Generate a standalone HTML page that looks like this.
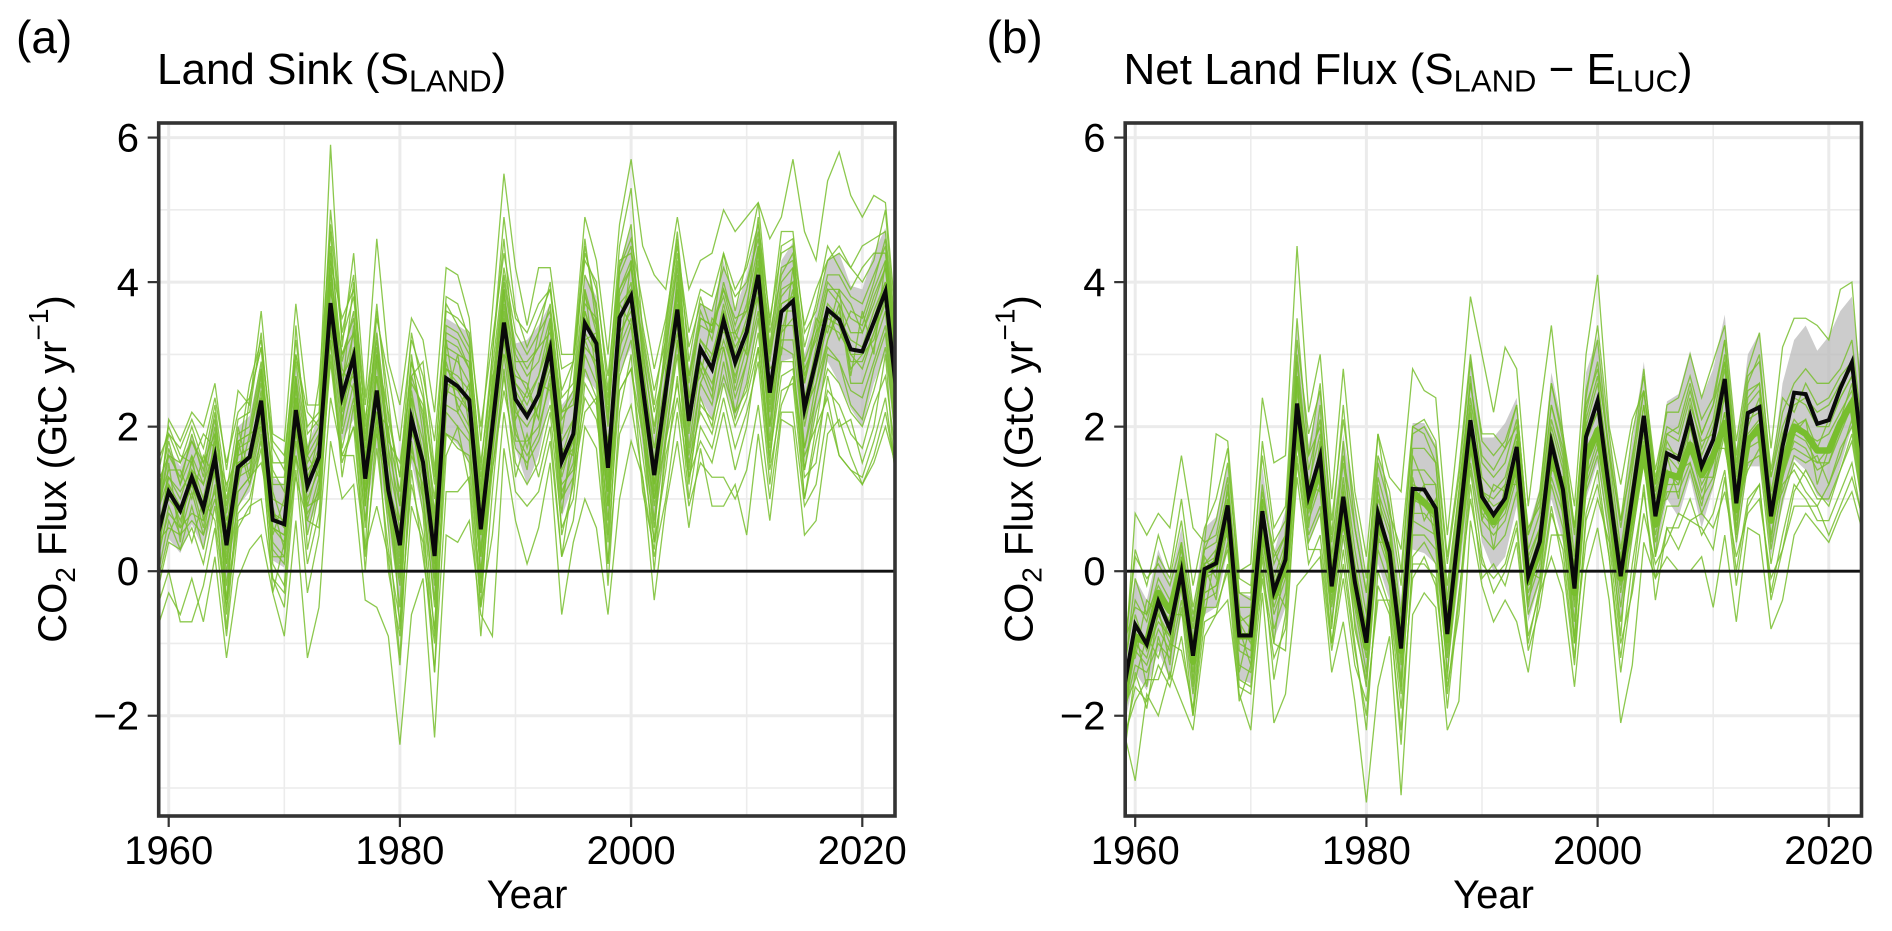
<!DOCTYPE html>
<html lang="en">
<head>
<meta charset="utf-8">
<title>Land Sink and Net Land Flux</title>
<style>
html,body{margin:0;padding:0;background:#fff;width:1892px;height:931px;overflow:hidden}
svg{display:block}
text{font-family:"Liberation Sans",sans-serif;fill:#000}
</style>
</head>
<body>
<svg id="figure" width="1892" height="931" viewBox="0 0 1892 931" xmlns="http://www.w3.org/2000/svg">
  <rect width="1892" height="931" fill="#fff"/>
  <defs>
    <clipPath id="plot-clip"><rect x="158.7" y="123" width="736.3" height="693"/></clipPath>
  </defs>

  <g id="panel-a">
    <text x="16" y="53" font-size="46">(a)</text>
    <text x="157" y="84" font-size="44">Land Sink (S<tspan font-size="31" dy="7.5">LAND</tspan><tspan dy="-7.5">)</tspan></text>
    <text x="527" y="908" font-size="40" text-anchor="middle">Year</text>
    <text transform="translate(66,469) rotate(-90)" font-size="40" text-anchor="middle">CO<tspan font-size="28" dy="9">2</tspan><tspan dy="-9"> Flux (GtC yr</tspan><tspan font-size="28" dy="-18">−1</tspan><tspan dy="18">)</tspan></text>
  </g>

  <g id="panel-b" transform="translate(966.5,0)">
    <text x="20" y="53" font-size="46">(b)</text>
    <text x="157" y="84" font-size="44">Net Land Flux (S<tspan font-size="31" dy="7.5">LAND</tspan><tspan dy="-7.5"> − E</tspan><tspan font-size="31" dy="7.5">LUC</tspan><tspan dy="-7.5">)</tspan></text>
    <text x="527" y="908" font-size="40" text-anchor="middle">Year</text>
    <text transform="translate(66,469) rotate(-90)" font-size="40" text-anchor="middle">CO<tspan font-size="28" dy="9">2</tspan><tspan dy="-9"> Flux (GtC yr</tspan><tspan font-size="28" dy="-18">−1</tspan><tspan dy="18">)</tspan></text>
  </g>
</svg>

<script>
const firstYear = 1959;
const xMajorTicks = [1960, 1980, 2000, 2020];
const xMinorTicks = [1970, 1990, 2010];
const yMajorTicks = [-2, 0, 2, 4, 6];
const yMinorTicks = [-3, -1, 1, 3, 5];

const sinkBlack = [0.47,
1.10,0.84,1.30,0.87,1.58,0.36,1.44,1.58,2.36,0.71,
0.65,2.23,1.18,1.58,3.71,2.42,2.97,1.28,2.50,1.12,
0.36,2.11,1.51,0.21,2.67,2.56,2.37,0.58,2.00,3.44,
2.38,2.14,2.44,3.07,1.52,1.90,3.43,3.15,1.43,3.51,
3.81,2.55,1.33,2.50,3.62,2.08,3.08,2.80,3.47,2.89,
3.31,4.10,2.47,3.59,3.74,2.25,2.92,3.62,3.48,3.07,
3.04,3.45,3.87,2.40];

const sinkBandHigh = [1.0,
1.7,1.45,1.9,1.5,2.2,1.0,2.0,2.15,2.9,1.3,
1.2,2.85,1.75,2.15,4.3,3.0,3.6,1.9,3.4,2.0,
1.1,2.8,2.1,0.9,3.5,3.4,3.3,1.1,2.6,4.1,
3.15,3.2,3.4,3.7,2.3,2.5,4.1,3.8,2.2,4.25,
4.75,3.3,2.0,3.2,4.3,2.8,3.7,3.6,4.3,3.6,
4.1,4.8,3.2,4.3,4.55,3.0,3.6,4.3,4.4,3.95,
3.9,4.4,4.75,3.2];

const sinkBandLow = [-0.1,
0.45,0.25,0.65,0.3,0.9,-0.25,0.9,1.1,1.75,0.15,
0.05,1.55,0.55,1.0,3.1,1.8,2.1,0.7,1.7,0.6,
-0.4,1.5,0.8,-0.4,1.9,1.75,1.5,0.0,1.4,2.75,
1.7,1.2,1.6,2.4,0.75,1.2,2.7,2.5,0.7,2.75,
3.1,1.7,0.6,1.7,3.0,1.4,2.4,2.1,2.6,2.1,
2.6,3.4,1.8,2.9,2.95,1.5,2.2,2.9,2.6,2.25,
2.0,2.6,3.0,1.5];

const sinkModel01 = [0.6,2.1,1.8,2.2,2.0,2.6,1.4,2.5,2.3,3.6,1.9,1.8,3.7,2.3,2.3,5.9,3.1,4.4,2.4,4.6,2.9,2.3,3.5,3.2,2.2,4.2,4.1,3.5,1.8,3.6,5.5,4.2,3.4,4.2,4.2,3.0,3.0,4.9,4.3,3.0,4.8,5.7,4.5,4.1,3.9,4.9,3.9,4.3,4.4,5.0,4.7,4.9,5.1,4.6,4.9,5.7,4.7,4.3,5.4,5.8,5.2,4.9,5.2,5.1,3.3];
const sinkModel02 = [0.9,1.9,1.5,2.0,1.5,2.3,1.1,2.1,2.2,3.3,1.5,1.5,3.2,1.9,2.1,5.0,3.3,4.1,2.0,3.7,2.1,1.3,3.3,2.5,1.3,3.8,3.7,3.2,1.4,3.0,4.9,3.6,3.1,3.5,3.9,2.5,2.9,4.3,4.0,2.5,4.5,5.3,3.3,2.3,3.4,4.7,2.9,3.8,3.3,4.4,3.6,4.3,5.1,3.4,4.7,4.7,3.3,3.6,4.3,4.5,4.2,4.0,4.3,5.0,3.0];
const sinkModel03 = [0.7,1.6,1.3,1.8,1.4,2.1,0.9,1.9,2.0,2.9,1.2,1.2,2.9,1.7,2.0,4.5,2.9,3.6,1.8,3.3,1.9,1.1,2.9,2.1,1.0,3.4,3.3,3.0,1.1,2.6,4.1,3.1,2.8,3.1,3.7,2.2,2.5,4.1,3.7,2.1,4.1,4.5,3.1,1.9,3.0,4.3,2.7,3.6,3.2,4.0,3.4,3.9,4.7,3.0,4.2,4.3,2.9,3.4,4.1,4.1,3.8,3.7,4.1,4.5,2.9];
const sinkModel04 = [0.5,1.3,1.0,1.5,1.0,1.8,0.3,1.7,1.8,2.7,0.8,0.6,2.6,1.3,1.7,4.2,2.6,3.3,1.3,2.9,1.3,0.2,2.5,1.6,0.0,3.0,2.9,2.6,0.5,2.3,3.9,2.6,2.4,2.7,3.4,1.6,2.1,3.9,3.3,1.4,3.8,4.2,2.7,1.2,2.7,4.0,2.2,3.2,2.9,3.7,3.0,3.5,4.4,2.5,3.9,4.0,2.3,3.1,3.9,3.7,3.3,3.3,3.7,4.2,2.5];
const sinkModel05 = [0.2,1.1,0.7,1.2,0.6,1.6,-0.4,1.5,1.6,2.5,0.4,0.2,2.4,0.9,1.5,4.0,2.2,3.0,0.9,2.5,0.9,-0.5,2.1,1.1,-0.5,2.6,2.5,2.2,-0.1,2.0,3.6,2.2,2.0,2.3,3.0,1.0,1.7,3.6,3.0,0.9,3.5,3.9,2.3,0.7,2.3,3.7,1.7,2.9,2.5,3.4,2.5,3.1,4.1,2.0,3.6,3.6,1.7,2.6,3.5,3.4,2.9,2.9,3.3,3.9,2.0];
const sinkModel06 = [-0.1,0.7,0.3,0.9,0.3,1.2,-0.8,1.1,1.3,2.1,0.1,-0.2,2.0,0.5,1.2,3.4,1.9,2.6,0.6,2.2,0.6,-1.2,1.8,0.8,-1.4,2.3,2.2,1.9,-0.5,1.7,3.2,1.9,1.6,1.9,2.7,0.5,1.2,3.0,2.6,0.1,2.9,3.4,2.0,0.0,1.8,3.2,1.2,2.4,2.0,2.9,2.1,2.6,3.5,1.5,3.1,3.0,1.0,2.0,3.0,2.9,2.3,2.1,2.8,3.3,1.6];
const sinkModel07 = [0.1,0.9,0.5,1.1,0.5,1.4,-0.2,1.3,1.4,2.2,0.3,0.1,2.1,0.7,1.3,3.6,2.1,2.8,0.9,2.4,0.9,-0.1,2.0,1.3,-0.2,2.5,2.4,2.2,0.2,1.9,3.2,2.3,1.7,2.3,2.8,1.1,1.5,3.1,2.9,0.9,3.1,3.5,2.2,0.9,2.1,3.2,1.6,2.6,2.3,3.1,2.4,2.9,3.6,2.0,3.2,3.2,1.7,2.4,3.1,2.9,2.5,2.4,2.9,3.4,1.8];
const sinkModel08 = [-0.3,0.4,0.3,0.6,0.1,0.9,-0.4,0.8,1.0,1.7,-0.1,-0.3,1.6,0.1,0.8,3.0,1.6,2.0,0.2,1.7,0.3,-0.7,1.2,0.5,-0.8,1.9,1.8,1.5,-0.3,1.4,2.7,1.5,1.2,1.5,2.2,0.6,1.0,2.6,2.3,0.4,2.5,2.8,1.6,0.4,1.4,2.7,1.0,2.0,1.7,2.4,1.7,2.2,2.9,1.2,2.5,2.6,1.0,1.8,2.5,2.3,1.9,1.7,2.3,2.7,1.5];
const sinkModel09 = [1.2,1.6,1.5,1.8,1.5,1.9,1.0,1.8,1.9,2.6,1.4,1.1,2.5,1.5,1.8,3.9,3.0,3.3,1.7,3.0,2.2,1.3,2.9,2.4,1.2,3.1,3.0,2.9,1.3,2.4,3.8,2.9,2.9,3.1,3.3,2.2,2.3,3.7,3.5,2.4,3.9,4.2,3.2,2.2,2.9,3.9,2.7,3.4,3.3,3.9,3.3,3.6,4.2,3.0,3.8,4.0,2.8,3.2,3.9,3.9,3.7,3.3,3.8,4.2,2.8];
const sinkModel10 = [0.8,1.3,1.1,1.4,1.2,1.7,0.6,1.6,1.7,2.4,1.0,0.9,2.4,1.4,1.6,3.7,2.7,3.0,1.5,2.7,1.5,0.7,2.4,1.8,0.6,2.8,2.7,2.5,0.9,2.2,3.5,2.6,2.3,2.7,3.2,1.8,2.1,3.5,3.2,1.7,3.7,3.9,2.8,1.7,2.7,3.8,2.3,3.2,3.0,3.6,3.1,3.4,4.2,2.6,3.7,3.8,2.4,3.0,3.6,3.5,3.2,3.1,3.6,4.0,2.5];
const sinkModel11 = [-0.8,-0.3,-0.6,-0.1,-0.7,0.2,-1.2,-0.1,0.3,0.5,-0.3,-0.9,0.7,-1.2,-0.5,1.8,1.0,1.2,-0.4,-0.5,-0.9,-2.4,-0.6,-0.1,-2.3,0.5,0.4,0.7,-0.6,-0.9,1.7,0.7,0.1,0.6,1.5,-0.6,0.4,1.0,0.6,-0.6,1.0,1.8,1.3,-0.4,0.9,1.8,0.6,1.7,0.9,0.9,1.2,0.5,1.9,0.7,2.1,2.0,0.5,0.7,1.9,2.1,1.6,1.2,1.6,2.2,1.3];
const sinkModel12 = [-0.5,0.0,-0.7,-0.7,-0.2,0.6,-0.9,0.6,0.9,1.0,-0.1,-0.5,1.4,-0.3,0.5,2.4,1.6,1.6,0.3,0.9,0.2,-1.3,0.9,0.4,-1.4,1.1,1.1,1.3,-0.5,0.5,2.2,1.1,0.9,1.1,1.8,0.2,0.7,2.0,1.7,0.1,1.9,2.3,1.3,0.2,1.0,2.2,0.9,1.5,1.3,1.3,1.0,1.4,2.3,1.0,2.2,2.2,0.9,1.2,2.2,1.6,1.4,1.3,1.8,2.4,1.2];
const sinkModel13 = [0.4,0.6,0.5,0.7,0.5,1.0,0.1,1.1,1.3,1.5,0.6,0.5,1.6,0.9,1.0,2.9,1.5,2.0,1.1,1.9,1.0,0.3,1.6,1.2,0.4,1.9,1.7,1.6,0.5,1.4,2.5,1.7,1.5,1.8,2.3,1.2,1.4,2.4,2.1,1.1,2.5,2.8,1.9,1.0,1.8,2.6,1.5,2.2,1.9,2.6,2.0,2.4,3.1,1.6,2.7,2.8,1.6,2.0,2.4,1.6,1.4,1.2,1.5,2.0,1.4];
const sinkModel14 = [1.5,1.9,1.7,2.1,1.7,2.4,1.5,2.2,2.4,3.1,1.8,1.6,3.0,2.0,2.2,4.3,3.5,3.9,2.3,3.5,2.7,1.8,3.2,2.7,1.8,3.6,3.5,3.3,2.0,3.2,4.4,3.5,3.3,3.7,3.9,2.8,2.9,4.4,3.9,2.7,4.2,4.6,3.7,2.8,3.5,4.5,3.3,3.9,3.8,4.4,3.9,4.2,4.8,3.5,4.4,4.5,3.4,3.9,4.3,4.4,4.2,4.5,4.6,4.7,3.0];
const sinkModel15 = [0.3,1.2,0.9,1.3,0.9,1.6,0.2,1.5,1.6,2.4,0.6,0.5,2.3,1.1,1.6,4.0,2.4,3.1,1.1,2.7,1.1,0.1,2.2,1.4,0.1,2.8,2.6,2.3,0.3,2.0,3.7,2.4,2.1,2.5,3.2,1.4,1.8,3.6,3.1,1.1,3.5,4.0,2.5,1.1,2.5,3.9,1.9,3.1,2.8,3.6,2.8,3.3,4.3,2.4,3.7,3.8,2.1,2.9,3.7,3.5,3.0,3.0,3.5,4.0,2.2];
const sinkModel16 = [0.6,1.0,0.8,1.2,0.8,1.5,0.1,1.4,1.5,2.2,0.6,0.4,2.1,1.0,1.4,3.5,2.3,2.8,1.0,2.4,1.0,0.0,2.0,1.4,-0.1,2.7,2.5,2.4,0.2,1.9,3.4,2.5,2.2,2.4,2.9,1.3,1.9,3.3,3.0,1.2,3.3,3.6,2.6,1.0,2.4,3.5,2.0,2.9,2.6,3.2,2.7,3.2,3.9,2.3,3.4,3.4,2.0,2.8,3.4,3.3,3.0,2.8,3.3,3.7,2.1];
const sinkModel17 = [1.0,1.8,1.2,1.6,1.2,2.0,0.7,1.2,2.4,3.1,1.1,0.6,3.4,1.6,2.6,4.7,2.5,4.0,1.5,3.6,2.4,0.9,3.0,1.9,0.7,3.3,3.2,2.8,1.0,3.0,4.6,2.8,2.5,3.3,3.6,1.9,2.9,4.6,3.4,2.0,4.2,4.8,2.9,1.5,3.3,4.6,2.4,3.5,3.4,3.9,3.5,3.6,4.9,3.1,4.5,4.6,2.6,3.3,3.6,3.2,3.6,3.5,4.0,4.6,2.7];
const sinkModel18 = [0.0,1.5,0.4,1.6,0.7,1.9,-0.6,1.8,1.2,2.0,0.9,0.3,2.7,0.3,1.1,3.9,2.8,2.5,0.3,3.0,1.7,-0.8,2.4,1.0,-0.9,3.2,2.2,2.6,-0.2,1.6,3.9,2.0,1.4,2.6,2.5,0.8,2.0,3.2,2.8,0.5,3.7,3.4,2.2,0.4,2.8,3.4,1.4,2.6,3.0,3.1,2.2,2.9,3.8,1.8,3.3,3.9,1.4,2.4,3.2,3.7,2.6,2.6,3.1,3.6,1.9];
const sinkModel19 = [0.9,1.4,1.4,1.0,1.6,1.3,0.5,2.0,1.3,2.8,0.5,1.0,2.0,1.6,1.3,4.4,2.0,3.4,1.6,2.2,2.0,0.5,2.7,2.2,0.3,2.4,3.0,2.0,0.8,2.7,3.0,2.7,2.6,2.1,3.5,1.7,1.6,3.9,2.7,1.8,3.0,4.3,2.4,1.4,2.2,4.1,2.4,2.7,3.5,3.3,3.3,3.0,4.5,2.8,3.0,4.2,2.6,3.5,3.3,3.9,2.7,3.6,3.0,4.3,2.6];
const sinkModel20 = [-0.2,0.5,0.9,0.4,1.0,0.7,-0.5,0.7,0.8,1.9,-0.3,0.4,1.3,0.7,0.6,3.2,1.3,2.3,0.0,2.0,0.0,-0.9,1.4,0.2,-1.0,1.6,2.0,1.2,-0.9,1.1,2.8,1.3,1.9,1.3,2.0,0.2,1.3,2.2,2.4,-0.2,2.2,3.0,1.1,0.3,1.6,2.4,1.3,1.8,1.5,2.2,1.4,2.0,3.1,1.4,2.3,2.7,1.3,1.5,2.7,2.0,2.1,1.5,2.0,3.0,1.0];
const sinkModel21 = [1.3,2.0,1.6,1.5,1.9,1.7,1.2,1.6,2.6,3.2,1.7,1.4,3.0,2.2,2.0,4.8,3.2,3.8,2.1,3.2,1.8,1.5,2.7,2.9,1.4,3.7,3.4,3.1,1.5,2.8,4.2,3.3,3.0,3.3,4.0,2.4,2.6,4.5,3.6,2.3,4.3,4.4,3.4,2.5,3.2,4.4,3.1,3.7,3.6,4.2,3.8,4.0,4.6,3.3,4.1,4.4,3.1,3.7,4.5,4.2,3.9,4.2,4.4,4.4,2.9];
const sinkModel22 = [0.4,1.2,0.6,1.4,0.9,1.4,0.4,1.2,1.9,2.0,0.8,0.7,1.9,1.2,1.9,3.3,2.5,2.7,1.2,2.1,1.2,0.6,1.9,1.6,0.5,2.9,2.3,2.0,0.7,2.3,3.3,2.1,2.5,2.1,3.1,1.5,1.7,3.2,3.3,1.3,3.2,3.7,2.3,1.2,2.6,3.3,2.2,2.8,2.4,3.5,2.6,3.4,3.8,2.2,3.3,3.5,2.2,2.6,3.2,3.6,2.8,3.0,3.2,3.8,2.3];
const sinkModel23 = [0.2,0.8,0.6,0.8,0.7,1.1,0.0,0.9,1.2,1.8,0.2,0.2,1.8,0.8,1.1,3.2,1.7,2.4,0.7,2.1,0.8,-0.2,1.7,1.0,-0.4,2.2,2.0,1.8,0.0,1.6,3.0,1.8,1.8,2.0,2.6,1.0,1.3,2.8,2.4,0.7,2.7,3.2,1.9,0.6,1.9,3.0,1.3,2.3,2.1,2.7,2.2,2.5,3.3,1.7,2.9,2.9,1.4,2.2,2.8,2.6,2.2,2.0,2.5,3.1,1.7];
const sinkModel24 = [0.7,1.7,1.2,1.9,1.3,2.2,0.8,1.8,1.9,2.8,1.3,1.3,2.7,1.6,1.9,4.1,3.0,3.5,1.9,3.1,1.7,0.9,2.6,2.3,0.8,3.2,3.1,2.8,1.2,2.5,4.0,3.0,2.7,2.9,3.5,2.1,2.4,3.8,3.4,2.2,3.9,4.3,3.0,2.0,3.1,4.2,2.6,3.5,3.4,3.8,3.2,3.7,4.5,2.9,4.0,4.2,2.7,3.3,4.0,3.8,3.5,3.4,3.9,4.3,2.6];

const netBlack = [-1.65,
-0.74,-1.01,-0.42,-0.80,-0.01,-1.17,0.03,0.11,0.91,-0.89,
-0.89,0.83,-0.28,0.16,2.32,1.04,1.59,-0.21,1.03,-0.15,
-0.99,0.80,0.27,-1.07,1.14,1.13,0.87,-0.87,0.60,2.09,
1.03,0.78,1.01,1.72,-0.07,0.41,1.78,1.13,-0.24,1.86,
2.36,1.13,-0.07,1.03,2.15,0.76,1.63,1.55,2.14,1.45,
1.82,2.66,0.94,2.19,2.27,0.76,1.73,2.47,2.45,2.04,
2.09,2.53,2.89,1.45];

const netThickGreen = [-1.7,
-0.9,-1.0,-0.3,-0.55,0.05,-1.25,0.0,0.12,0.85,-0.9,
-0.9,0.7,-0.35,0.1,2.2,0.9,1.5,-0.25,0.95,-0.2,
-1.05,0.75,0.2,-1.1,1.1,0.95,0.8,-0.95,0.5,1.95,
0.95,0.68,0.95,1.6,-0.15,0.3,1.7,1.05,-0.3,1.55,
1.95,1.0,-0.1,0.85,1.7,0.65,1.35,1.3,1.75,1.33,
1.6,2.05,0.85,1.8,2.0,0.7,1.45,2.0,1.9,1.67,
1.67,2.05,2.33,1.3];

const netBandHigh = [-0.9,
-0.1,-0.4,0.3,-0.15,0.6,-0.55,0.6,0.75,1.45,-0.3,
-0.35,1.45,0.25,0.85,3.4,1.75,2.5,0.45,1.9,0.9,
-0.2,1.6,1.0,-0.4,2.05,2.05,1.75,-0.2,1.2,3.0,
1.85,1.85,2.05,2.4,0.6,1.15,2.75,2.0,0.6,2.75,
3.25,1.9,0.7,1.8,2.9,1.3,2.35,2.45,3.05,2.4,
2.8,3.55,1.7,3.0,3.3,1.3,2.6,3.2,3.4,3.05,
3.25,3.6,3.8,2.4];

const netBandLow = [-2.2,
-1.4,-1.65,-1.1,-1.5,-0.6,-1.8,-0.6,-0.5,0.3,-1.5,
-1.55,0.2,-0.95,-0.5,1.75,0.4,0.8,-0.8,0.4,-0.65,
-1.65,0.1,-0.4,-1.7,0.3,0.25,0.1,-1.4,-0.1,1.35,
0.4,0.0,0.2,0.9,-0.7,-0.15,1.0,0.4,-0.8,1.0,
1.5,0.4,-0.65,0.4,1.55,0.2,1.0,0.75,1.3,0.6,
1.15,1.95,0.3,1.45,1.45,0.2,0.9,1.55,1.4,1.05,
0.95,1.45,2.0,0.6];

const netModel01 = [-1.5,0.8,0.5,0.8,0.6,1.6,0.6,0.4,1.9,1.8,0.0,0.1,2.4,1.5,1.6,4.5,2.2,3.0,1.0,2.8,1.1,0.2,1.9,1.3,1.1,2.8,2.5,2.4,0.5,2.0,3.8,3.0,2.2,3.1,2.8,0.9,2.2,3.4,1.9,0.9,3.0,4.1,2.0,1.2,2.1,2.5,1.2,2.3,2.4,3.0,2.4,2.9,3.4,1.8,2.8,3.3,1.7,3.1,3.5,3.5,3.4,3.2,3.9,4.0,2.0];
const netModel02 = [-1.2,0.3,-0.2,0.5,0.0,1.0,-0.2,0.6,1.0,1.7,-0.3,-0.4,1.8,0.6,0.9,3.5,1.6,2.6,0.5,2.3,0.6,-0.3,1.9,0.8,0.3,2.0,2.1,1.8,0.2,1.4,3.0,1.8,1.6,1.8,2.3,0.5,1.0,2.6,1.8,0.6,2.4,3.4,1.9,0.7,1.5,2.8,1.2,1.9,2.0,2.6,1.9,2.3,3.2,1.4,2.6,3.0,1.3,2.2,2.6,2.8,2.6,2.6,2.8,3.2,1.8];
const netModel03 = [-2.2,-2.9,-1.7,-2.0,-1.4,-1.8,-2.2,-0.9,-0.6,-0.4,-1.7,-2.2,-0.3,-2.1,-1.7,-0.2,0.0,0.2,-1.4,-0.7,-1.8,-3.2,-1.6,-0.9,-3.1,-0.6,-0.3,-0.5,-2.2,-1.8,0.7,-0.2,-0.7,-0.4,-0.7,-1.4,-0.3,0.2,-0.3,-1.6,0.0,0.6,-0.4,-2.1,-1.3,0.4,-0.1,0.2,0.0,0.0,0.2,-0.5,0.5,-0.7,0.6,0.5,-0.8,-0.4,0.5,0.8,0.6,0.4,0.8,1.1,0.5];
const netModel04 = [-1.4,-0.4,-0.7,-0.1,-0.4,0.3,-0.8,0.4,0.5,1.3,-0.5,-0.5,1.2,0.1,0.5,3.0,1.4,2.1,0.2,1.5,0.3,-0.6,1.3,0.7,-0.6,1.7,1.7,1.5,-0.4,1.1,2.6,1.5,1.3,1.5,2.1,0.3,0.8,2.3,1.6,0.2,2.2,2.9,1.6,0.3,1.4,2.5,1.1,1.9,1.8,2.4,1.7,2.1,3.0,1.3,2.4,2.6,1.1,1.9,2.3,2.4,2.2,2.3,2.6,2.8,1.6];
const netModel05 = [-1.8,-1.0,-1.2,-0.6,-1.0,-0.1,-1.4,-0.1,0.0,0.7,-1.0,-1.1,0.6,-0.5,0.0,2.2,0.8,1.3,-0.4,0.8,-0.4,-1.2,0.6,0.1,-1.3,0.8,0.8,0.6,-1.1,0.4,1.8,0.8,0.6,0.8,1.4,-0.3,0.2,1.5,0.9,-0.5,1.5,2.0,0.9,-0.3,0.8,1.8,0.5,1.2,1.2,1.7,1.1,1.5,2.2,0.7,1.8,1.9,0.5,1.3,1.8,1.7,1.4,1.5,1.9,2.3,1.0];
const netModel06 = [-2.0,-1.3,-1.4,-1.0,-1.2,-0.4,-1.7,-0.4,-0.3,0.4,-1.3,-1.4,0.3,-0.8,-0.3,1.8,0.5,0.9,-0.7,0.5,-0.7,-1.6,0.3,-0.2,-1.7,0.5,0.5,0.3,-1.4,0.1,1.5,0.5,0.3,0.5,1.1,-0.6,-0.1,1.2,0.6,-0.9,1.1,1.6,0.5,-0.7,0.5,1.5,0.2,0.9,0.9,1.4,0.8,1.2,1.9,0.4,1.5,1.6,0.1,1.0,1.5,1.3,1.0,1.0,1.4,1.8,0.8];
const netModel07 = [-2.4,-1.6,-1.8,-1.3,-1.6,-0.9,-2.0,-0.7,-0.6,0.1,-1.6,-1.7,-0.1,-1.2,-0.8,1.3,0.1,0.5,-1.0,0.1,-1.1,-2.0,-0.2,-0.6,-2.2,0.1,0.1,-0.1,-1.7,-0.3,1.0,0.1,-0.1,0.1,0.7,-0.9,-0.3,0.8,0.3,-1.2,0.7,1.2,0.2,-1.2,0.1,1.1,-0.1,0.6,0.6,1.0,0.5,0.8,1.4,0.0,1.0,1.2,-0.3,0.5,1.2,1.0,0.7,0.7,1.1,1.5,0.6];
const netModel08 = [-1.0,-0.5,-0.6,-0.2,-0.5,0.2,-0.7,0.3,0.4,1.1,-0.3,-0.3,1.1,0.2,0.5,2.7,1.6,2.0,0.4,1.6,0.6,-0.3,1.5,0.9,-0.2,2.0,1.9,1.5,-0.2,1.1,2.6,1.6,1.4,1.7,2.0,0.6,0.9,2.3,1.7,0.5,2.3,2.8,1.7,0.6,1.6,2.5,1.3,2.0,1.9,2.5,1.9,2.3,2.9,1.5,2.5,2.6,1.3,2.0,2.4,2.3,2.0,2.0,2.4,2.7,1.4];
const netModel09 = [-1.6,-0.9,-1.0,-0.4,-0.7,0.0,-1.3,0.0,0.1,0.8,-0.9,-0.9,0.7,-0.4,0.1,2.1,0.9,1.4,-0.3,0.9,-0.3,-1.1,0.7,0.2,-1.2,1.0,0.9,0.7,-1.0,0.5,1.9,0.9,0.7,0.9,1.6,-0.2,0.3,1.6,1.0,-0.4,1.7,2.0,1.0,-0.2,0.9,1.9,0.6,1.4,1.2,1.8,1.2,1.5,2.2,0.8,1.9,2.1,0.7,1.4,1.9,1.8,1.5,1.5,2.0,2.4,1.1];
const netModel10 = [-2.6,-1.4,-1.9,-0.9,-1.5,-0.5,-2.0,-0.3,-0.2,0.3,-1.5,-1.6,0.2,-1.5,-0.6,1.6,0.4,0.8,-1.0,0.3,-1.0,-2.2,0.0,-0.5,-2.4,0.2,0.4,0.1,-1.9,-0.4,1.4,0.2,-0.3,0.0,0.6,-1.0,-0.2,0.9,0.1,-1.3,0.8,1.4,0.2,-1.4,-0.2,1.2,-0.4,0.6,0.3,0.7,0.6,0.3,1.3,-0.2,0.9,1.2,-0.4,0.3,1.1,1.4,1.1,0.9,1.4,1.9,0.8];
const netModel11 = [-1.2,0.2,-0.1,0.1,-0.2,0.4,-0.6,0.1,0.3,0.9,-0.7,-0.6,0.9,-0.1,0.4,2.6,1.2,1.9,0.0,1.3,0.1,-0.8,1.0,0.5,-0.8,1.4,1.4,1.2,-0.6,0.9,2.4,1.3,1.1,1.3,1.9,0.1,0.6,2.0,1.4,0.0,2.0,2.6,1.4,0.1,1.2,2.3,0.9,1.7,1.6,2.2,1.6,2.0,2.8,1.2,2.2,2.3,0.9,1.7,2.1,1.9,1.8,1.9,2.2,2.5,1.3];
const netModel12 = [-2.0,-1.1,-1.3,-0.8,-1.1,-0.2,-1.5,-0.3,-0.2,0.6,-1.1,-1.2,0.5,-0.6,-0.1,2.0,0.7,1.2,-0.5,0.7,-0.5,-1.4,0.5,0.0,-1.5,0.7,0.6,0.5,-1.2,0.3,1.7,0.7,0.5,0.7,1.3,-0.4,0.1,1.3,0.8,-0.7,1.3,1.8,0.7,-0.5,0.7,1.7,0.4,1.1,1.1,1.5,1.0,1.3,2.0,0.6,1.7,1.8,0.3,1.2,1.4,1.1,0.9,1.2,1.6,2.1,0.9];
const netModel13 = [-1.5,-0.1,-0.6,0.2,-0.1,0.7,-0.5,0.3,0.7,1.5,-0.1,-0.2,1.6,0.4,0.7,3.2,1.9,2.5,0.7,2.1,0.9,-0.1,1.6,1.1,0.0,1.9,2.0,1.7,0.1,1.3,2.9,1.9,1.9,1.7,2.3,0.5,1.1,2.6,1.9,0.6,2.5,3.2,1.6,0.7,1.9,2.7,1.4,2.2,2.2,2.7,2.1,2.4,3.2,1.6,2.7,2.9,1.4,2.4,2.2,2.6,2.3,2.4,2.7,2.9,1.7];
const netModel14 = [-2.2,-0.8,-1.6,-0.5,-1.3,0.2,-1.6,0.1,-0.4,1.0,-1.4,-0.7,1.0,-1.0,0.3,2.7,0.6,1.8,-0.8,1.2,-0.8,-1.5,1.2,-0.2,-1.6,1.3,0.7,1.0,-1.5,0.8,2.3,0.7,1.2,1.1,1.5,-0.5,0.6,1.9,1.2,-1.0,1.9,2.2,0.8,-0.9,1.1,2.0,0.2,1.6,1.0,2.0,1.3,1.3,2.5,0.5,2.0,2.4,0.4,1.6,1.9,2.1,1.2,1.7,2.1,2.6,1.2];
const netModel15 = [-1.9,-1.5,-0.9,-1.2,-0.6,-0.6,-1.0,-0.6,0.3,0.5,-0.8,-1.3,0.5,-0.2,-0.5,1.9,1.2,1.1,0.0,0.6,-0.1,-0.8,0.4,0.4,-1.0,0.9,1.2,0.4,-0.7,0.2,1.7,1.2,0.3,1.2,1.2,0.0,-0.1,1.4,1.3,-0.2,1.2,1.7,1.2,-0.1,0.5,1.6,0.9,1.0,1.4,1.5,0.9,1.7,1.7,0.9,1.4,1.7,0.8,1.1,1.6,1.5,1.6,1.2,1.7,2.0,0.9];
const netModel16 = [-1.3,-1.2,-0.4,-0.6,-0.9,0.4,-1.0,0.2,-0.1,1.2,-0.6,-0.8,1.0,0.3,-0.1,2.9,1.1,2.3,-0.1,1.8,-0.2,-0.9,1.1,0.6,-0.9,1.6,1.2,1.2,-0.8,0.8,2.7,1.1,1.0,1.2,1.9,0.2,0.6,2.1,1.5,-0.1,2.1,2.7,1.2,0.2,1.2,2.3,1.0,1.8,1.5,2.3,1.8,1.9,2.9,1.1,2.3,2.5,1.0,1.8,2.0,2.1,1.7,2.1,2.4,2.7,1.5];
const netModel17 = [-2.3,-1.8,-1.5,-1.5,-1.0,-1.1,-1.9,-0.5,-0.5,0.0,-1.8,-1.3,0.0,-1.0,-1.1,1.5,0.3,0.3,-1.1,-0.1,-1.3,-1.8,-0.4,-0.4,-1.9,-0.1,0.2,-0.2,-1.6,-0.6,1.2,-0.1,0.1,-0.2,0.4,-1.1,-0.5,0.5,0.5,-1.0,0.4,1.0,0.4,-1.0,-0.3,0.8,0.1,0.4,0.8,0.7,0.8,0.6,1.1,0.2,0.8,1.0,-0.1,0.3,0.9,0.9,0.9,0.5,0.9,1.3,0.7];
const netModel18 = [-1.7,-0.6,-1.1,-0.7,-0.9,0.1,-1.1,0.1,0.2,1.0,-0.7,-1.0,0.9,-0.2,0.3,2.5,1.0,1.7,-0.1,1.1,-0.1,-0.9,0.9,0.3,-1.0,1.2,1.1,0.9,-0.8,0.7,2.2,1.1,0.9,1.0,1.8,0.0,0.5,1.9,1.2,-0.1,1.8,2.2,1.1,0.0,1.0,2.1,0.8,1.6,1.4,2.0,1.4,1.8,2.4,1.0,2.1,2.2,0.8,1.6,1.7,1.6,1.5,1.7,2.1,2.4,1.2];

const sinkModels = [sinkModel01,sinkModel02,sinkModel03,sinkModel04,sinkModel05,sinkModel06,sinkModel07,sinkModel08,sinkModel09,sinkModel10,sinkModel11,sinkModel12,sinkModel13,sinkModel14,sinkModel15,sinkModel16,sinkModel17,sinkModel18,sinkModel19,sinkModel20,sinkModel21,sinkModel22,sinkModel23,sinkModel24];
const netModels = [netModel01,netModel02,netModel03,netModel04,netModel05,netModel06,netModel07,netModel08,netModel09,netModel10,netModel11,netModel12,netModel13,netModel14,netModel15,netModel16,netModel17,netModel18];

const SVG_NS = 'http://www.w3.org/2000/svg';
const plotLeft = 158.7, plotRight = 895, plotTop = 123, plotBottom = 816;

function xScale(year) { return 168.7 + 11.56 * (year - 1960); }
function yScale(value) { return 571.2 - 72.27 * value; }

function make(parent, tag, attrs) {
  const el = document.createElementNS(SVG_NS, tag);
  for (const key in attrs) el.setAttribute(key, attrs[key]);
  parent.appendChild(el);
  return el;
}

function linePath(values) {
  return values.map((v, i) => (i ? 'L' : 'M') + xScale(firstYear + i).toFixed(2) + ' ' + yScale(v).toFixed(2)).join('');
}

function bandPath(high, low) {
  const top = high.map((v, i) => (i ? 'L' : 'M') + xScale(firstYear + i).toFixed(2) + ' ' + yScale(v).toFixed(2)).join('');
  let bottom = '';
  for (let i = low.length - 1; i >= 0; i--) {
    bottom += 'L' + xScale(firstYear + i).toFixed(2) + ' ' + yScale(low[i]).toFixed(2);
  }
  return top + bottom + 'Z';
}

function drawPanel(groupId, models, bandHigh, bandLow, blackValues, thickValues) {
  const group = document.getElementById(groupId);
  const plot = make(group, 'g', { 'clip-path': 'url(#plot-clip)' });
  
  

  yMinorTicks.forEach(v => {
    const g = make(plot, 'line', { x1: plotLeft, x2: plotRight, y1: yScale(v), y2: yScale(v), stroke: '#ececec', 'stroke-width': 1.6 });
    
    
  });
  xMinorTicks.forEach(y => {
    const g = make(plot, 'line', { x1: xScale(y), x2: xScale(y), y1: plotTop, y2: plotBottom, stroke: '#ececec', 'stroke-width': 1.6 });
    
    
  });
  yMajorTicks.forEach(v => {
    const g = make(plot, 'line', { x1: plotLeft, x2: plotRight, y1: yScale(v), y2: yScale(v), stroke: '#ebebeb', 'stroke-width': 3 });
    
    
  });
  xMajorTicks.forEach(y => {
    const g = make(plot, 'line', { x1: xScale(y), x2: xScale(y), y1: plotTop, y2: plotBottom, stroke: '#ebebeb', 'stroke-width': 3 });
    
    
  });

  const band = make(plot, 'path', { d: bandPath(bandHigh, bandLow), fill: '#b8b8b8', 'fill-opacity': 0.72, stroke: 'none' });
  
  

  models.forEach(values => {
    const p = make(plot, 'path', { d: linePath(values), fill: 'none', stroke: '#78BE2E', 'stroke-width': 1.3, 'stroke-opacity': 0.85, 'stroke-linejoin': 'miter' });
    
    
  });

  const zero = make(plot, 'line', { x1: plotLeft, x2: plotRight, y1: yScale(0), y2: yScale(0), stroke: '#111', 'stroke-width': 2.8 });
  
  

  if (thickValues) {
    const t = make(plot, 'path', { d: linePath(thickValues), fill: 'none', stroke: '#78BE2E', 'stroke-width': 6.5, 'stroke-linejoin': 'round' });
    
    
  }

  const black = make(plot, 'path', { d: linePath(blackValues), fill: 'none', stroke: '#0a0a0a', 'stroke-width': 4, 'stroke-linejoin': 'miter', 'stroke-miterlimit': 6 });
  
  

  const border = make(group, 'rect', { x: plotLeft, y: plotTop, width: plotRight - plotLeft, height: plotBottom - plotTop, fill: 'none', stroke: '#333', 'stroke-width': 3.6 });
  
  

  xMajorTicks.forEach(y => {
    const t = make(group, 'line', { x1: xScale(y), x2: xScale(y), y1: plotBottom, y2: plotBottom + 11, stroke: '#333', 'stroke-width': 2.2 });
    
    
    const l = make(group, 'text', { x: xScale(y), y: 864, 'font-size': 40, 'text-anchor': 'middle' });
    
    
    l.textContent = String(y);
  });
  yMajorTicks.forEach(v => {
    const t = make(group, 'line', { x1: plotLeft - 11, x2: plotLeft, y1: yScale(v), y2: yScale(v), stroke: '#333', 'stroke-width': 2.2 });
    
    
    const l = make(group, 'text', { x: 139, y: yScale(v) + 14, 'font-size': 40, 'text-anchor': 'end' });
    
    
    l.textContent = v < 0 ? '−' + Math.abs(v) : String(v);
  });
}

drawPanel('panel-a', sinkModels, sinkBandHigh, sinkBandLow, sinkBlack, null);
drawPanel('panel-b', netModels, netBandHigh, netBandLow, netBlack, netThickGreen);
</script>
</body>
</html>
